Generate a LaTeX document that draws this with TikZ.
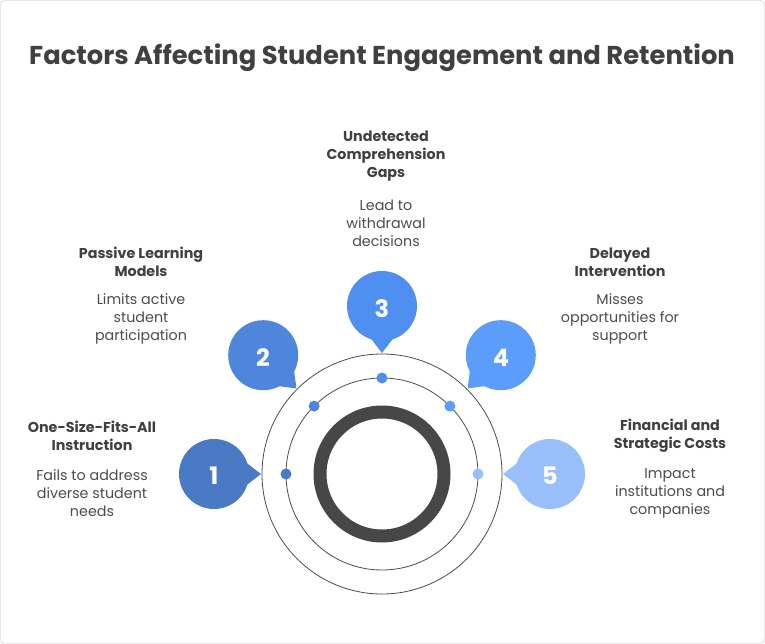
\documentclass[tikz,border=0pt]{standalone}
\usepackage{fontspec}
\setmainfont{Poppins}
\usetikzlibrary{calc}
\begin{document}
\begin{tikzpicture}[x=1pt,y=-1pt,
  head/.style={font=\bfseries\fontsize{14.3}{18}\selectfont,text=black!75,align=center},
  desc/.style={font=\fontsize{14.3}{18}\selectfont,text=black!70,align=center},
  num/.style={font=\bfseries\fontsize{24}{26}\selectfont,text=white}]
\definecolor{c1}{HTML}{4A7AC4}\definecolor{c2}{HTML}{4F86DB}\definecolor{c3}{HTML}{4F8FF0}
\definecolor{c4}{HTML}{5C9CFA}\definecolor{c5}{HTML}{98BFFA}
\path[use as bounding box] (0,0) rectangle (765,644);
\draw[black!25,rounded corners=4] (0.5,0.5) rectangle (764.5,643.5);
\node[font=\bfseries\fontsize{25.8}{28}\selectfont,text=black!75] (title) at (382,58) {Factors Affecting Student Engagement and Retention};
\coordinate (c) at (382,474);
\draw[black!70,line width=0.8] (c) circle[radius=120];
\draw[black!70,line width=0.8] (c) circle[radius=96];
\draw[black!72,line width=13] (c) circle[radius=62];
\foreach \i/\a in {1/180,2/135,3/90,4/45,5/0}{
  \fill[c\i] ($(c)+(-\a:96)$) circle[radius=5.5];
  \fill[c\i] ($(c)+(-\a:168)$) circle[radius=35];
  \fill[c\i] ($(c)+(-\a:121)$) -- ($(c)+(-\a+6:141)$) -- ($(c)+(-\a-6:141)$) -- cycle;
}
\node[num] (n1) at (214,476) {1};
\node[num] (n2) at (263,358) {2};
\node[num] (n3) at (382,309) {3};
\node[num] (n4) at (501,358) {4};
\node[num] (n5) at (550,476) {5};
\node[head] (h3) at (386,156) {Undetected\\Comprehension\\Gaps};
\node[desc] (d3) at (386,223) {Lead to\\withdrawal\\decisions};
\node[head] (h2) at (141,262) {Passive Learning\\Models};
\node[desc] (d2) at (141,319) {Limits active\\student\\participation};
\node[head] (h4) at (620,262) {Delayed\\Intervention};
\node[desc] (d4) at (620,319) {Misses\\opportunities for\\support};
\node[head] (h1) at (92,436) {One-Size-Fits-All\\Instruction};
\node[desc] (d1) at (92,493) {Fails to address\\diverse student\\needs};
\node[head] (h5) at (670,436) {Financial and\\Strategic Costs};
\node[desc] (d5) at (670,493) {Impact\\institutions and\\companies};
\end{tikzpicture}
\end{document}
